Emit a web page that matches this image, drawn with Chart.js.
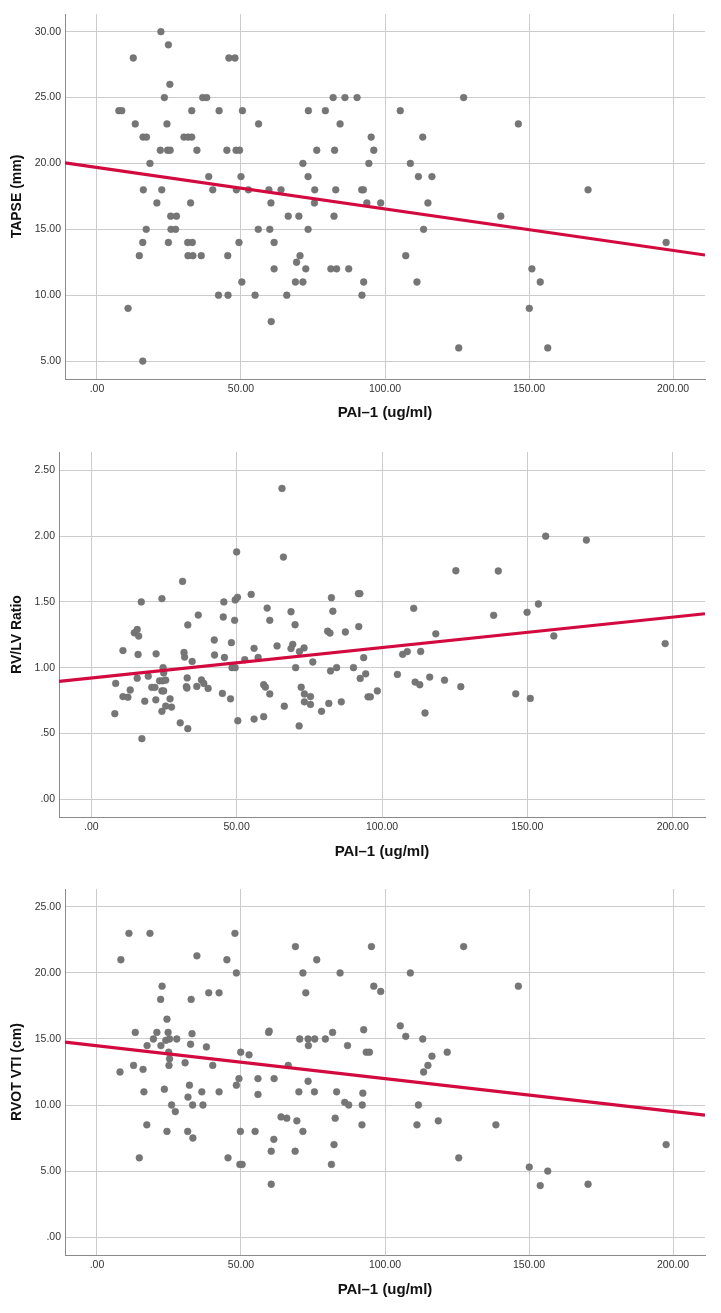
<!DOCTYPE html>
<html>
<head>
<meta charset="utf-8">
<script src="https://cdn.jsdelivr.net/npm/chart.js@4.4.1/dist/chart.umd.min.js"></script>
<style>
body { margin: 0; background: #fff; width: 721px; height: 1313px; overflow: hidden; position: relative; }
canvas { position: absolute; left: 0; }
</style>
</head>
<body>
<canvas id="tapseChart" width="721" height="430" style="top:0px"></canvas>
<canvas id="rvlvChart" width="721" height="435" style="top:430px"></canvas>
<canvas id="vtiChart" width="721" height="448" style="top:865px"></canvas>
<script>
// PAI-1 (x) vs TAPSE, RV/LV ratio, RVOT VTI — [x, y] pairs
const tapsePoints = [
  [22.2,30],[24.8,29],[12.6,28],[45.8,28],[47.9,28],[25.3,26],
  [23.4,25],[36.7,25],[38.1,25],[82.0,25],[86.1,25],[90.3,25],[127.3,25],
  [7.6,24],[8.6,24],[32.9,24],[42.4,24],[50.5,24],[73.4,24],[79.3,24],[105.3,24],
  [13.3,23],[24.3,23],[56.1,23],[84.4,23],[146.3,23],
  [16.0,22],[17.2,22],[30.2,22],[31.6,22],[32.9,22],[95.2,22],[113.1,22],
  [22.0,21],[24.5,21],[25.4,21],[34.7,21],[45.1,21],[48.3,21],[49.5,21],[76.3,21],[82.5,21],[96.1,21],
  [18.4,20],[71.5,20],[94.4,20],[108.8,20],
  [38.8,19],[50.0,19],[73.3,19],[111.6,19],[116.3,19],
  [16.1,18],[22.5,18],[40.2,18],[48.4,18],[52.6,18],[59.7,18],[63.9,18],[75.6,18],[82.9,18],[91.9,18],[92.5,18],[170.5,18],
  [20.8,17],[32.5,17],[60.4,17],[75.5,17],[93.7,17],[98.5,17],[114.9,17],
  [25.6,16],[27.6,16],[66.4,16],[70.1,16],[82.3,16],[140.2,16],
  [17.1,15],[25.7,15],[27.3,15],[56.0,15],[60.0,15],[73.3,15],[113.4,15],
  [15.9,14],[24.8,14],[31.5,14],[33.1,14],[49.3,14],[61.5,14],[197.6,14],
  [14.7,13],[31.6,13],[33.3,13],[36.2,13],[45.4,13],[70.5,13],[107.2,13],
  [69.3,12.5],
  [61.5,12],[72.5,12],[81.2,12],[83.2,12],[87.4,12],[151.0,12],
  [50.3,11],[68.9,11],[71.5,11],[92.6,11],[111.1,11],[153.9,11],
  [42.2,10],[45.5,10],[54.9,10],[65.9,10],[92.0,10],
  [10.8,9],[150.1,9],[60.5,8],[125.6,6],[156.5,6],[15.9,5]
];

const rvlvPoints = [
  [8.1,0.65],[8.4,0.88],[10.9,1.13],[10.9,0.78],[12.6,0.775],[13.4,0.83],
  [14.8,1.265],[15.8,1.29],[16.3,1.24],[17.2,1.50],[16.1,1.10],[15.8,0.92],
  [17.4,0.46],[18.4,0.745],[19.6,0.935],[20.8,0.85],[21.9,0.85],[22.3,1.105],
  [22.2,0.755],[24.3,1.525],[23.5,0.90],[24.5,0.90],[25.6,0.905],[24.7,1.00],
  [24.9,0.96],[24.3,0.823],[24.9,0.823],[24.3,0.668],[25.6,0.708],[27.6,0.70],
  [27.1,0.763],[30.6,0.58],[31.4,1.656],[31.9,1.115],[32.1,1.08],[33.2,1.325],
  [32.7,0.855],[32.9,0.845],[33.0,0.922],[33.2,0.536],[34.7,1.047],[36.3,0.857],
  [36.8,1.40],[37.9,0.906],[38.7,0.88],[40.2,0.842],[42.3,1.21],[42.4,1.096],
  [45.1,0.804],[45.6,1.50],[45.4,1.385],[45.8,1.077],[47.9,0.763],[48.2,1.19],
  [49.3,1.36],[49.5,1.515],[50.3,1.535],[50.0,1.88],[48.4,1.00],[49.5,1.00],
  [50.4,0.596],[52.8,1.06],
  [55.0,1.557],[60.5,1.453],[61.4,1.36],[56.0,1.147],[57.4,1.077],[63.9,1.165],
  [68.7,1.425],[70.1,1.326],[69.3,1.177],[68.7,1.145],[71.6,1.122],[73.2,1.15],
  [70.3,1.00],[76.2,1.043],[56.0,0.609],[59.3,0.627],[59.3,0.87],[59.9,0.852],
  [61.4,0.80],[66.4,0.707],[71.5,0.557],[72.2,0.851],[73.3,0.80],[75.4,0.78],
  [73.3,0.74],[75.4,0.72],[79.2,0.668],[81.7,0.728],[82.3,0.975],[84.4,1.00],
  [81.3,1.277],[82.1,1.263],[82.6,1.532],[83.1,1.429],[87.4,1.271],[86.0,0.74],
  [90.2,1.00],[91.9,1.563],[92.4,1.563],[92.0,1.312],[93.7,1.076],[92.5,0.918],
  [94.4,0.953],[95.2,0.778],[96.0,0.778],[98.4,0.823],[105.3,0.948],[110.9,1.451],
  [107.1,1.101],[108.7,1.122],[113.3,1.123],[111.4,0.89],[113.0,0.87],[116.4,0.928],
  [114.8,0.655],[118.5,1.257],[121.5,0.905],[125.4,1.737],[127.1,0.855],[140.0,1.735],
  [138.4,1.398],[146.0,0.801],[149.9,1.421],[151.0,0.766],[153.8,1.484],[156.3,2.0],
  [159.1,1.241],[170.3,1.97],[197.4,1.183],[65.6,2.363],[66.1,1.841]
];

const vtiPoints = [
  [11.1,23],[18.4,23],[47.9,23],[8.3,21],[34.7,21.3],[45.1,21],[48.4,20],
  [22.6,19],[22.1,18],[32.7,18],[38.8,18.5],[42.4,18.5],[24.3,16.5],
  [13.3,15.5],[20.8,15.5],[24.7,15.5],[33.0,15.4],[19.6,15],[23.9,14.9],[25.2,15],[27.7,15],
  [17.4,14.5],[22.2,14.5],[32.5,14.6],[38.0,14.4],[24.9,14],[25.2,13.5],[25.0,13],
  [12.7,13],[8.0,12.5],[16.0,12.7],[30.6,13.2],[40.2,13],[49.9,14],[52.8,13.8],
  [23.4,11.2],[16.3,11],[32.1,11.5],[31.6,10.6],[36.4,11],[42.4,11],[48.4,11.5],[49.3,12],
  [25.9,10],[27.2,9.5],[33.2,10],[36.8,10],[17.3,8.5],[24.3,8],[31.5,8],[33.3,7.5],
  [14.7,6],[45.5,6],[49.8,8],[49.6,5.5],[50.4,5.5],
  [55.9,12],[55.9,10.8],[54.9,8],[68.9,22],[95.3,22],[127.3,22],[76.3,21],
  [71.5,20],[84.4,20],[108.8,20],[96.1,19],[146.3,19],[72.5,18.5],[98.5,18.6],
  [105.3,16],[107.2,15.2],[59.6,15.5],[59.8,15.6],[70.4,15],[73.3,15],[75.6,15],
  [79.3,15],[81.8,15.5],[73.4,14.5],[87.0,14.5],[92.6,15.7],[93.5,14],[94.6,14],
  [113.1,15],[116.3,13.7],[114.9,13],[113.4,12.5],[121.6,14],[66.4,13],[61.5,12],
  [73.3,11.8],[70.1,11],[75.5,11],[83.2,11],[92.3,10.9],[86.0,10.2],[87.4,10],
  [92.1,10],[111.6,10],[63.9,9.1],[65.9,9.0],[69.4,8.8],[82.7,9.0],[92.0,8.5],
  [111.1,8.5],[118.5,8.8],[138.5,8.5],[71.5,8],[61.4,7.4],[68.8,6.5],[60.5,6.5],
  [82.3,7],[81.4,5.5],[125.6,6],[197.6,7],[150.1,5.3],[156.5,5],[153.9,3.9],
  [170.5,4],[60.5,4]
];

// fit line values at the left and right ends of the x axis
const fitX = [-11.1, 211.1];
const tapseFit = [20.05, 13.05];
const rvlvFit = [0.896, 1.41];
const vtiFit = [14.77, 9.24];

// tick labels
const paiTicks = [0, 50, 100, 150, 200];
const tapseTicks = [5, 10, 15, 20, 25, 30];
const rvlvTicks = [0, 0.5, 1, 1.5, 2, 2.5];
const vtiTicks = [0, 5, 10, 15, 20, 25];

const FONT = "'Liberation Sans', Arial, sans-serif";

function fmt(v) {
    return v.toFixed(2).replace(/^0\./, '.');
}

function makeChart(id, opts) {
    const ctx = document.getElementById(id).getContext('2d');
    return new Chart(ctx, {
        type: 'scatter',
        data: {
            datasets: [{
                type: 'line',
                data: fitX.map((x, i) => ({ x: x, y: opts.fit[i] })),
                borderColor: '#d30a3f',
                borderWidth: 3.2,
                pointRadius: 0,
                fill: false,
                order: 0
            }, {
                data: opts.points.map(p => ({ x: p[0], y: p[1] })),
                backgroundColor: '#767676',
                borderColor: '#6f6f6f',
                borderWidth: 0.5,
                pointRadius: 3.4,
                order: 1
            }]
        },
        options: {
            responsive: false,
            animation: false,
            devicePixelRatio: 1,
            layout: { padding: { top: opts.padTop, right: 16, left: 0, bottom: 0 } },
            plugins: { legend: { display: false }, tooltip: { enabled: false } },
            scales: {
                x: {
                    type: 'linear',
                    min: opts.xMin, max: opts.xMax,
                    afterBuildTicks: s => { s.ticks = paiTicks.map(v => ({ value: v })); },
                    afterFit: s => { s.height = opts.xHeight; },
                    grid: { color: '#cccccc', lineWidth: 1, drawTicks: false },
                    border: { color: '#8a8a8a', width: 1 },
                    ticks: { padding: 4, color: '#333', font: { family: FONT, size: 10.5 }, callback: v => fmt(v), maxRotation: 0 },
                    title: {
                        display: true, text: 'PAI\u20131 (ug/ml)', color: '#111',
                        font: { family: FONT, size: 15, weight: 'bold' },
                        padding: { top: 0, bottom: opts.xTitlePad }
                    }
                },
                y: {
                    type: 'linear',
                    min: opts.yMin, max: opts.yMax,
                    afterBuildTicks: s => { s.ticks = opts.yTicks.map(v => ({ value: v })); },
                    afterFit: s => { s.width = opts.yWidth; },
                    grid: { color: '#cccccc', lineWidth: 1, drawTicks: false },
                    border: { color: '#8a8a8a', width: 1 },
                    ticks: { padding: 4, color: '#333', font: { family: FONT, size: 10.5 }, callback: v => fmt(v) },
                    title: {
                        display: true, text: opts.yTitle, color: '#111',
                        font: { family: FONT, size: 14, weight: 'bold' },
                        padding: { top: 9, bottom: 0 }
                    }
                }
            }
        }
    });
}

makeChart('tapseChart', {
    points: tapsePoints, fit: tapseFit, yTicks: tapseTicks, yTitle: 'TAPSE (mm)',
    xMin: -11.1, xMax: 211.1, yMin: 3.64, yMax: 31.34,
    padTop: 14, yWidth: 65, xHeight: 51, xTitlePad: 8
});

makeChart('rvlvChart', {
    points: rvlvPoints, fit: rvlvFit, yTicks: rvlvTicks, yTitle: 'RV/LV Ratio',
    xMin: -11.1, xMax: 211.1, yMin: -0.136, yMax: 2.64,
    padTop: 22, yWidth: 59, xHeight: 48, xTitlePad: 4
});

makeChart('vtiChart', {
    points: vtiPoints, fit: vtiFit, yTicks: vtiTicks, yTitle: 'RVOT VTI (cm)',
    xMin: -11.1, xMax: 211.1, yMin: -1.36, yMax: 26.36,
    padTop: 24, yWidth: 65, xHeight: 58, xTitlePad: 14
});
</script>
</body>
</html>
